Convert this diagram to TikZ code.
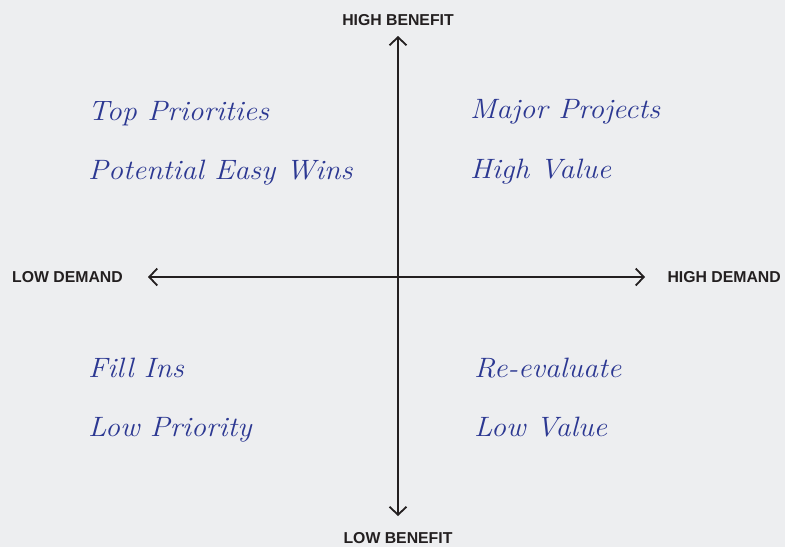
\documentclass[tikz,border=0pt]{standalone}
\usepackage{fontspec}
\setsansfont{Liberation Sans}
\newfontfamily\handfont{Latin Modern Roman}[FakeStretch=1.07]
\usetikzlibrary{arrows.meta, positioning}

\definecolor{paper}{RGB}{237,238,240}
\definecolor{ink}{RGB}{44,56,146}
\definecolor{axisblack}{RGB}{35,31,32}

\tikzset{
  axis/.style={line width=1.8pt, draw=axisblack,
    {Straight Barb[length=8pt,width=17pt]}-{Straight Barb[length=8pt,width=17pt]}},
  axislabel/.style={font=\sffamily\bfseries\fontsize{15.8}{18}\selectfont,
    text=axisblack, inner sep=0pt},
  quadnote/.style={font=\handfont\itshape\fontsize{28}{32}\selectfont,
    text=ink, inner sep=0pt, anchor=base west},
}

\begin{document}
\begin{tikzpicture}[x=1pt, y=-1pt]
    % Backdrop
    \fill[paper] (0,0) rectangle (785,547);

    % Axis ends
    \coordinate (top) at (398,36);
    \coordinate (bottom) at (398,516);
    \coordinate (left) at (148,277);
    \coordinate (right) at (645,277);

    % Axes
    \draw[axis] (bottom) -- (top);
    \draw[axis] (left) -- (right);

    % Axis labels
    \node[axislabel] (highbenefit) at (398,20) {HIGH BENEFIT};
    \node[axislabel] (lowbenefit) at (398,538) {LOW BENEFIT};
    \node[axislabel, anchor=west] (lowdemand) at (12,277.5) {LOW DEMAND};
    \node[axislabel, anchor=east] (highdemand) at (781,277.5) {HIGH DEMAND};

    % Upper left
    \node[quadnote] (toppri) at (88,120) {Top Priorities};
    \node[quadnote] (easywins) at (88,179) {Potential Easy Wins};

    % Upper right
    \node[quadnote] (major) at (470,118) {Major Projects};
    \node[quadnote] (highval) at (470,178) {High Value};

    % Lower left
    \node[quadnote] (fillins) at (88,377) {Fill Ins};
    \node[quadnote] (lowpri) at (88,436) {Low Priority};

    % Lower right
    \node[quadnote] (reeval) at (474,377) {Re-evaluate};
    \node[quadnote] (lowval) at (474,436) {Low Value};
\end{tikzpicture}
\end{document}
